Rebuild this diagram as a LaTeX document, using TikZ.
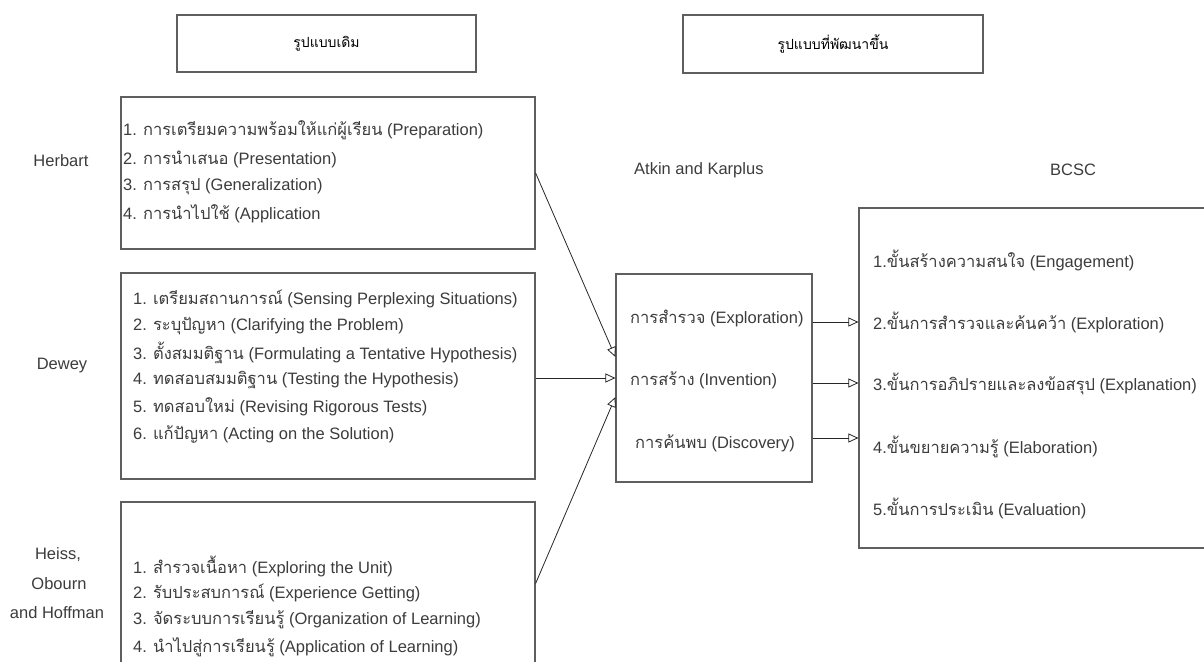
\documentclass[tikz,border=0pt]{standalone}
\usepackage{fontspec}
\setmainfont{Liberation Sans}
\newfontfamily\thaifont[Script=Thai]{Loma}
\newcommand{\thx}[1]{{\thaifont #1}}
\usetikzlibrary{arrows.meta}
\definecolor{boxgray}{RGB}{95,95,95}
\definecolor{txtgray}{RGB}{60,60,60}

\begin{document}
\begin{tikzpicture}[x=1pt,y=-1pt]
	% Styles
	\tikzset{box/.style={draw=boxgray,line width=1.2pt,inner sep=0pt},
		item/.style={anchor=west,inner sep=0pt,text=txtgray,font=\fontsize{16.5}{19}\selectfont},
		who/.style={inner sep=0pt,text=txtgray,font=\fontsize{16.5}{19}\selectfont},
		arr/.style={draw=black!85,line width=0.8pt,-{Triangle[open,length=10pt,width=9pt]}}}
	\useasboundingbox (0,0) rectangle (1204,661);

	% Titles
	\node[box,minimum width=299pt,minimum height=57pt,font=\fontsize{14}{16}\selectfont] (old) at (326.5,43.5) {\thx{รูปแบบเดิม}};
	\node[box,minimum width=300pt,minimum height=58pt,font=\fontsize{14}{16}\selectfont] (new) at (833,44) {\thx{รูปแบบที่พัฒนาขึ้น}};

	% Boxes on the left
	\node[box,minimum width=414pt,minimum height=152pt] (herb) at (328,173) {};
	\node[box,minimum width=414pt,minimum height=206pt] (dew) at (328,376) {};
	\node[box,minimum width=414pt,minimum height=163pt] (heiss) at (328,583.5) {};

	% Boxes on the right
	\node[box,minimum width=196pt,minimum height=208pt] (atk) at (714,378) {};
	\node[box,minimum width=356pt,minimum height=340pt] (bcsc) at (1037,378) {};

	% Names
	\node[who] (herbname) at (61,161) {Herbart};
	\node[who] (dewname) at (62,366) {Dewey};
	\node[who] (heissname) at (58,555) {Heiss,};
	\node[who] (obname) at (59,584) {Obourn};
	\node[who] (hofname) at (57,613) {and Hoffman};
	\node[who,anchor=west] (atkname) at (634,170) {Atkin and Karplus};
	\node[who,anchor=west] (bcscname) at (1050,170) {BCSC};

	% Herbart
	\node[item] (h1) at (123,130) {1. \thx{การเตรียมความพร้อมให้แก่ผู้เรียน} (Preparation)};
	\node[item] (h2) at (123,159) {2. \thx{การนำเสนอ} (Presentation)};
	\node[item] (h3) at (123,187) {3. \thx{การสรุป} (Generalization)};
	\node[item] (h4) at (123,214) {4. \thx{การนำไปใช้} (Application};

	% Dewey
	\node[item] (d1) at (133,299) {1. \thx{เตรียมสถานการณ์} (Sensing Perplexing Situations)};
	\node[item] (d2) at (133,326) {2. \thx{ระบุปัญหา} (Clarifying the Problem)};
	\node[item] (d3) at (133,353) {3. \thx{ตั้งสมมติฐาน} (Formulating a Tentative Hypothesis)};
	\node[item] (d4) at (133,380) {4. \thx{ทดสอบสมมติฐาน} (Testing the Hypothesis)};
	\node[item] (d5) at (133,407) {5. \thx{ทดสอบใหม่} (Revising Rigorous Tests)};
	\node[item] (d6) at (133,434) {6. \thx{แก้ปัญหา} (Acting on the Solution)};

	% Heiss, Obourn and Hoffman
	\node[item] (o1) at (133,566) {1. \thx{สำรวจเนื้อหา} (Exploring the Unit)};
	\node[item] (o2) at (133,593) {2. \thx{รับประสบการณ์} (Experience Getting)};
	\node[item] (o3) at (133,620) {3. \thx{จัดระบบการเรียนรู้} (Organization of Learning)};
	\node[item] (o4) at (133,647) {4. \thx{นำไปสู่การเรียนรู้} (Application of Learning)};

	% Atkin and Karplus
	\node[item] (a1) at (630,318) {\thx{การสำรวจ} (Exploration)};
	\node[item] (a2) at (630,380) {\thx{การสร้าง} (Invention)};
	\node[item] (a3) at (635,443) {\thx{การค้นพบ} (Discovery)};

	% BCSC
	\node[item] (b1) at (873,260) {1.\thx{ขั้นสร้างความสนใจ} (Engagement)};
	\node[item] (b2) at (873,322) {2.\thx{ขั้นการสำรวจและค้นคว้า} (Exploration)};
	\node[item] (b3) at (873,384) {3.\thx{ขั้นการอภิปรายและลงข้อสรุป} (Explanation)};
	\node[item] (b4) at (873,447) {4.\thx{ขั้นขยายความรู้} (Elaboration)};
	\node[item] (b5) at (873,508) {5.\thx{ขั้นการประเมิน} (Evaluation)};

	% Arrows
	\draw[arr] (herb.east) -- ([yshift=21pt]atk.west);
	\draw[arr] (dew.east |- atk.west) -- (atk.west);
	\draw[arr] (heiss.east) -- ([yshift=-19pt]atk.west);
	\draw[arr] ([yshift=56pt]atk.east) -- ([yshift=56pt]atk.east -| bcsc.west);
	\draw[arr] ([yshift=-5pt]atk.east) -- ([yshift=-5pt]atk.east -| bcsc.west);
	\draw[arr] ([yshift=-60pt]atk.east) -- ([yshift=-60pt]atk.east -| bcsc.west);

\end{tikzpicture}
\end{document}
